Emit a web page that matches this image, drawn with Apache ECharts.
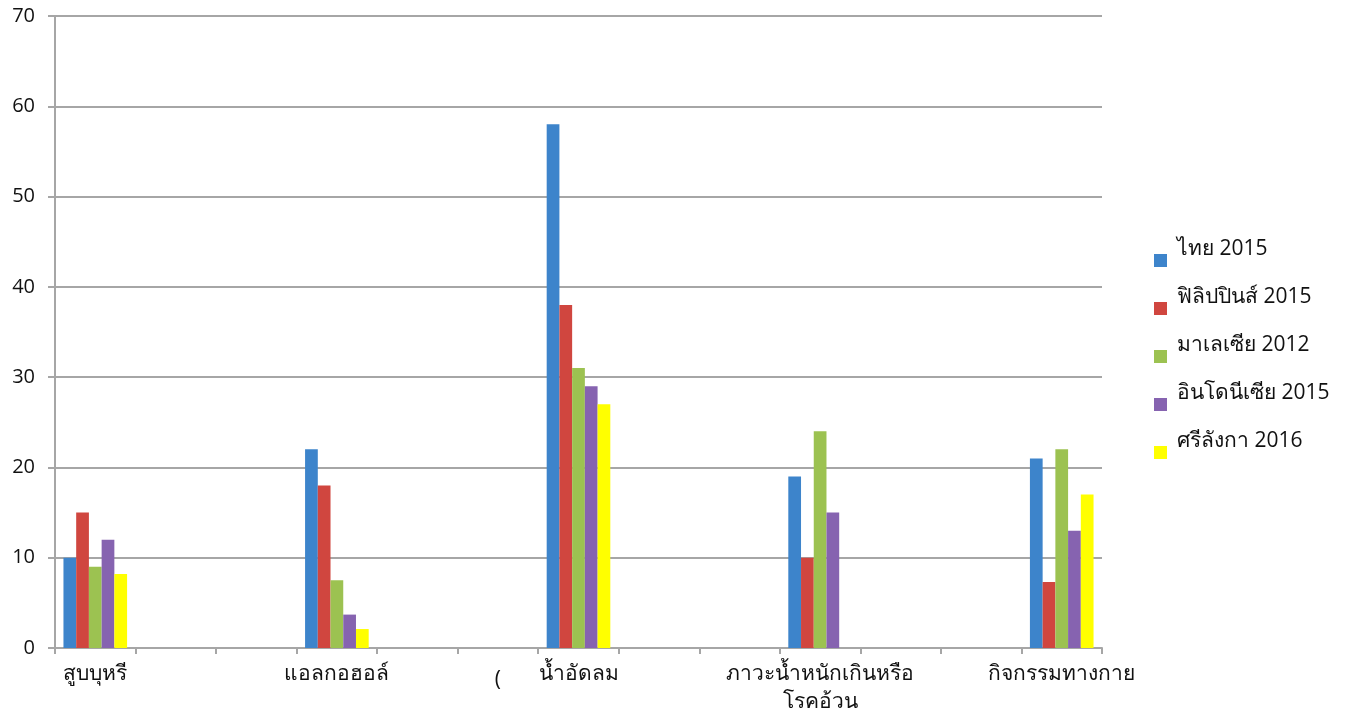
<!DOCTYPE html>
<html>
<head>
<meta charset="utf-8">
<script src="https://cdn.jsdelivr.net/npm/echarts@6/dist/echarts.min.js"></script>
<style>
html,body{margin:0;padding:0;background:#fff;}
#chart{width:1347px;height:716px;}
</style>
</head>
<body>
<div id="chart"></div>
<script>
// 13 slots on the category axis; only every third one holds a risk factor
const categories = ['สูบบุหรี', '', '', 'แอลกอฮอล์', '', '(', 'น้ำอัดลม', '', '', 'ภาวะน้ำหนักเกินหรือ\nโรคอ้วน', '', '', 'กิจกรรมทางกาย'];
const seriesNames = ['ไทย 2015', 'ฟิลิปปินส์ 2015', 'มาเลเซีย 2012', 'อินโดนีเซีย 2015', 'ศรีลังกา 2016'];
const thailand2015    = [10, null, null, 22,  null, null, 58, null, null, 19,   null, null, 21];
const philippines2015 = [15, null, null, 18,  null, null, 38, null, null, 10,   null, null, 7.3];
const malaysia2012    = [9,  null, null, 7.5, null, null, 31, null, null, 24,   null, null, 22];
const indonesia2015   = [12, null, null, 3.7, null, null, 29, null, null, 15,   null, null, 13];
const srilanka2016    = [8.2, null, null, 2.1, null, null, 27, null, null, null, null, null, 17];
const yTicks = [0, 10, 20, 30, 40, 50, 60, 70];

const colors = ['#3d84cb', '#d0463f', '#9cc251', '#8663b0', '#ffff00'];
const values = [thailand2015, philippines2015, malaysia2012, indonesia2015, srilanka2016];
const font = '"Open Sans", "Noto Sans", "DejaVu Sans", sans-serif';

// legend swatch: a 13px square sitting low in a taller box, so the label rides above it
const swatch = 'path://M0,0L0,0M18,0L18,0M0,23L13,23L13,36L0,36Z';

const chart = echarts.init(document.getElementById('chart'));
chart.setOption({
  animation: false,
  color: colors,
  grid: { left: 55, right: 245, top: 16, bottom: 63, containLabel: false },
  legend: {
    orient: 'vertical',
    left: 1149,
    top: 226,
    itemWidth: 18,
    itemHeight: 36,
    itemGap: 12,
    icon: swatch,
    data: seriesNames,
    textStyle: { fontFamily: font, fontSize: 21, color: '#111' }
  },
  xAxis: {
    type: 'category',
    data: categories,
    axisLine: { lineStyle: { color: '#a6a6a6', width: 2 } },
    axisTick: { show: true, length: 6, lineStyle: { color: '#a6a6a6', width: 2 } },
    axisLabel: {
      interval: 0, fontFamily: font, fontSize: 21, color: '#111', margin: 12, lineHeight: 28,
      formatter: v => (v === '(' ? '{low|(}' : v),
      rich: { low: { fontFamily: font, fontSize: 21, color: '#111', padding: [12, 0, 0, 0] } }
    }
  },
  yAxis: {
    type: 'value',
    min: 0,
    max: 70,
    interval: 10,
    axisLine: { show: true, lineStyle: { color: '#a6a6a6', width: 2 } },
    axisTick: { show: true, length: 7, lineStyle: { color: '#a6a6a6', width: 2 } },
    axisLabel: {
      fontFamily: font, fontSize: 20, color: '#111', margin: 20,
      formatter: v => (yTicks.includes(v) ? String(v) : '')
    },
    splitLine: { lineStyle: { color: '#a6a6a6', width: 2 } }
  },
  series: seriesNames.map((name, i) => ({
    name,
    type: 'bar',
    data: values[i],
    barGap: '0%',
    barCategoryGap: '21%',
    itemStyle: { color: colors[i] }
  }))
});
</script>
</body>
</html>
